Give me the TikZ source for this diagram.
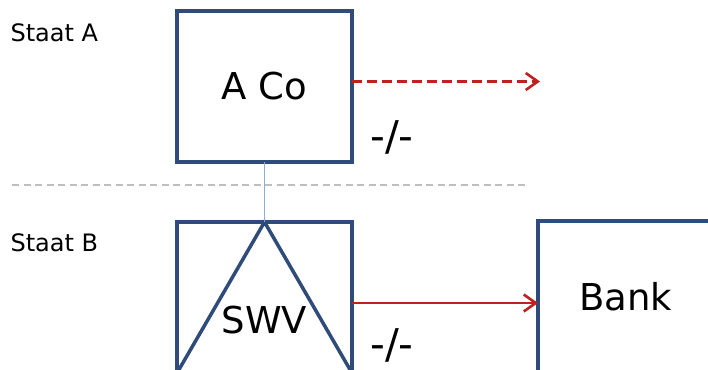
\documentclass[tikz,border=0pt]{standalone}
\usepackage{fontspec}
\setmainfont{DejaVu Sans}
\usetikzlibrary{arrows.meta}

\definecolor{boxblue}{RGB}{47,75,122}
\definecolor{flowred}{RGB}{192,32,32}
\definecolor{linkblue}{RGB}{142,170,219}
\definecolor{bordergray}{RGB}{190,190,190}

\begin{document}
\begin{tikzpicture}[x=1pt,y=-1pt,
	entity/.style={draw=boxblue, line width=3.5pt, rectangle, minimum width=175pt, minimum height=151pt, inner sep=0pt, outer sep=0pt},
	bigtext/.style={font=\fontsize{37}{42}\selectfont},
	blocktext/.style={font=\fontsize{41}{45}\selectfont},
	statetext/.style={font=\fontsize{24}{28}\selectfont, anchor=west},
	flow/.style={draw=flowred, line width=2.6pt, -{Straight Barb[length=12pt,width=17pt]}}]
		\def\xleft{264.5}  % Centre of the two entity boxes on the x-axis
		\def\xright{625.5} % Centre of the bank box on the x-axis
		
		\useasboundingbox (0,0) rectangle (708,369);
		\clip (0,0) rectangle (708,369);
		
		% States and the border between them
		\node[statetext] (staatA) at (7,33) {Staat A};
		\node[statetext] (staatB) at (7,243) {Staat B};
		\coordinate (borderL) at (12,185);
		\coordinate (borderR) at (526,185);
		\draw[bordergray, line width=1.8pt, dash pattern=on 7pt off 4.5pt] (borderL) -- (borderR);
		
		% Entities
		\node[entity, bigtext] (aco) at (\xleft,86.5) {A Co};
		\node[entity] (swv) at (\xleft,297.5) {};
		\draw[boxblue, line width=3.5pt, line join=miter] (swv.south west) -- (swv.north) -- (swv.south east);
		\node[bigtext] (swvtext) at (\xleft,320) {SWV};
		\node[entity, bigtext] (bank) at (\xright,296.5) {Bank};
		
		\draw[linkblue, line width=1.5pt] (aco.south) -- (swv.north);
		
		% Payments
		\coordinate (outflow) at (540,81.5);
		\draw[flow, dash pattern=on 10pt off 5pt] ([yshift=5pt]aco.east) -- (outflow);
		\draw[flow] ([yshift=-5.5pt]swv.east) -- ([yshift=-6.5pt]bank.west);
		
		\node[blocktext] (blockA) at (392,137) {-/-};
		\node[blocktext] (blockB) at (392,345) {-/-};
	\end{tikzpicture}
\end{document}
